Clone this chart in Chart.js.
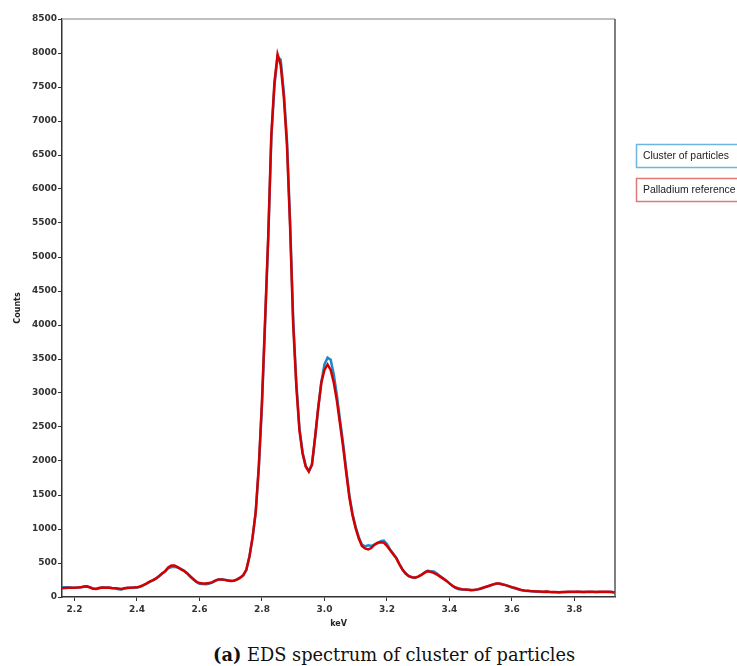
<!DOCTYPE html>
<html>
<head>
<meta charset="utf-8">
<script src="https://cdn.jsdelivr.net/npm/chart.js@4/dist/chart.umd.min.js"></script>
<style>
  html,body{margin:0;padding:0;background:#fff;}
  #wrap{position:relative;width:737px;height:666px;overflow:hidden;}
  #c{position:absolute;left:0;top:0;}
  #caption{position:absolute;left:213px;top:645px;font-family:"DejaVu Serif",serif;font-size:17.8px;line-height:20px;color:#111;white-space:nowrap;}
</style>
</head>
<body>
<div id="wrap">
  <canvas id="c" width="737" height="640"></canvas>
  <div id="caption"><b>(a)</b> EDS spectrum of cluster of particles</div>
</div>
<script>
// energy channels (keV)
const keV = [
  2.16,2.17,2.18,2.19,2.20,2.21,2.22,2.23,2.24,2.25,
  2.26,2.27,2.28,2.29,2.30,2.31,2.32,2.33,2.34,2.35,
  2.36,2.37,2.38,2.39,2.40,2.41,2.42,2.43,2.44,2.45,
  2.46,2.47,2.48,2.49,2.50,2.51,2.52,2.53,2.54,2.55,
  2.56,2.57,2.58,2.59,2.60,2.61,2.62,2.63,2.64,2.65,
  2.66,2.67,2.68,2.69,2.70,2.71,2.72,2.73,2.74,2.75,
  2.76,2.77,2.78,2.79,2.80,2.81,2.82,2.83,2.84,2.85,
  2.86,2.87,2.88,2.89,2.90,2.91,2.92,2.93,2.94,2.95,
  2.96,2.97,2.98,2.99,3.00,3.01,3.02,3.03,3.04,3.05,
  3.06,3.07,3.08,3.09,3.10,3.11,3.12,3.13,3.14,3.15,
  3.16,3.17,3.18,3.19,3.20,3.21,3.22,3.23,3.24,3.25,
  3.26,3.27,3.28,3.29,3.30,3.31,3.32,3.33,3.34,3.35,
  3.36,3.37,3.38,3.39,3.40,3.41,3.42,3.43,3.44,3.45,
  3.46,3.47,3.48,3.49,3.50,3.51,3.52,3.53,3.54,3.55,
  3.56,3.57,3.58,3.59,3.60,3.61,3.62,3.63,3.64,3.65,
  3.66,3.67,3.68,3.69,3.70,3.71,3.72,3.73,3.74,3.75,
  3.76,3.77,3.78,3.79,3.80,3.81,3.82,3.83,3.84,3.85,
  3.86,3.87,3.88,3.89,3.90,3.91,3.92,3.93
];

// counts, cluster of particles
const clusterCounts = [
  142,145,142,138,137,140,143,150,155,142,
  122,120,130,138,138,135,130,128,115,110,
  125,132,137,138,140,150,170,195,220,245,
  270,300,340,375,420,440,445,435,415,390,
  350,305,260,220,195,190,188,195,210,235,
  255,260,255,245,238,240,258,282,318,395,
  590,870,1240,1900,2820,4020,5250,6750,7520,7950,
  7900,7420,6720,5520,4080,3150,2480,2130,1930,1850,
  1940,2330,2770,3160,3420,3520,3490,3270,2960,2600,
  2250,1860,1490,1220,1030,880,770,745,760,750,
  770,790,820,830,780,700,640,575,485,405,
  345,305,290,285,300,325,360,385,380,375,
  345,310,275,240,200,160,130,115,110,108,
  105,100,103,110,122,138,152,168,183,195,
  195,188,175,158,140,128,112,100,92,90,
  85,82,80,78,75,78,72,70,70,68,
  70,72,75,75,73,76,74,72,75,73,
  75,72,73,75,74,73,72,65
];

// counts, palladium reference
const palladiumCounts = [
  130,132,135,135,137,138,142,155,158,140,
  120,118,135,140,137,138,132,130,125,118,
  130,135,137,138,142,155,175,198,225,245,
  270,305,345,380,435,465,465,440,410,385,
  350,305,265,225,205,200,200,205,215,240,
  258,258,252,242,235,240,255,285,320,400,
  600,880,1250,1930,2870,4070,5300,6800,7570,7980,
  7820,7350,6650,5450,4000,3100,2450,2110,1920,1845,
  1950,2350,2780,3150,3340,3420,3340,3150,2880,2540,
  2200,1820,1460,1200,1010,860,750,715,700,720,
  770,800,805,800,750,690,630,570,480,400,
  345,305,290,285,300,325,355,380,370,355,
  330,300,270,240,200,165,140,125,115,112,
  108,103,105,112,125,140,155,170,185,200,
  198,185,175,160,145,132,118,105,97,93,
  88,85,82,80,78,80,76,74,72,70,
  72,75,78,78,76,78,77,75,78,76,
  78,75,76,78,77,76,74,65
];

const xTicks = [2.2,2.4,2.6,2.8,3.0,3.2,3.4,3.6,3.8];
const yTicks = [0,500,1000,1500,2000,2500,3000,3500,4000,4500,5000,5500,6000,6500,7000,7500,8000,8500];

const series = [
  {label:'Cluster of particles', data:clusterCounts, color:'rgb(30,136,204)', box:'#6cb6e0'},
  {label:'Palladium reference', data:palladiumCounts, color:'rgb(212,0,0)', box:'#e07878'}
];

function pts(vals){ return vals.map((v,i)=>({x:keV[i], y:v})); }

const framePlugin = {
  id:'frame',
  afterDraw(chart){
    const {ctx, chartArea:a} = chart;
    ctx.save();
    ctx.lineWidth = 1.5;
    ctx.strokeStyle = '#aaa';
    ctx.beginPath(); ctx.moveTo(a.left, a.top); ctx.lineTo(a.right, a.top); ctx.stroke();
    ctx.strokeStyle = '#555';
    ctx.beginPath(); ctx.moveTo(a.right, a.top); ctx.lineTo(a.right, a.bottom); ctx.stroke();
    // legend boxes at the right
    series.forEach((s,i)=>{
      const y = 144 + i*34;
      ctx.fillStyle = '#fff'; ctx.fillRect(636, y, 120, 23);
      ctx.strokeStyle = s.box; ctx.lineWidth = 1.5;
      ctx.strokeRect(636.5, y+0.5, 120, 23);
      ctx.fillStyle = '#222'; ctx.font = '10.4px "Liberation Sans", Arial, sans-serif';
      ctx.textBaseline = 'middle'; ctx.textAlign = 'left';
      ctx.fillText(s.label, 643, y+12);
    });
    ctx.restore();
  }
};

const tickFont = {family:'"DejaVu Sans", sans-serif', size:9, weight:'bold'};
const titleFont = {family:'"DejaVu Sans", sans-serif', size:8, weight:'bold'};

new Chart(document.getElementById('c').getContext('2d'), {
  type:'line',
  data:{
    datasets: series.map((s,i)=>({
      label:s.label, data:pts(s.data), borderColor:s.color, backgroundColor:s.color,
      borderWidth:2.5, pointRadius:0, tension:0, fill:false, order: i===1 ? 1 : 2
    }))
  },
  options:{
    responsive:false, animation:false,
    layout:{padding:{top:19, right:122, left:0, bottom:0}},
    plugins:{legend:{display:false}, tooltip:{enabled:false}},
    scales:{
      x:{
        type:'linear', min:2.16, max:3.93,
        afterBuildTicks: s => { s.ticks = xTicks.map(v=>({value:v})); },
        afterFit: s => { s.height = 43; },
        ticks:{font:tickFont, color:'#333', padding:3, autoSkip:false, maxRotation:0,
               callback: v => v.toFixed(1)},
        grid:{drawOnChartArea:false, tickLength:4, color:'#333'},
        border:{color:'#333', width:1.5},
        title:{display:true, text:'keV', font:titleFont, color:'#222', padding:{top:0, bottom:11}}
      },
      y:{
        min:0, max:8500,
        afterBuildTicks: s => { s.ticks = yTicks.map(v=>({value:v})); },
        afterFit: s => { s.width = 62; },
        ticks:{font:tickFont, color:'#333', padding:1, autoSkip:false, callback: v => String(v)},
        grid:{drawOnChartArea:false, tickLength:4, color:'#333'},
        border:{color:'#333', width:1.5},
        title:{display:true, text:'Counts', font:titleFont, color:'#222', padding:{top:13, bottom:0}}
      }
    }
  },
  plugins:[framePlugin]
});
</script>
</body>
</html>
